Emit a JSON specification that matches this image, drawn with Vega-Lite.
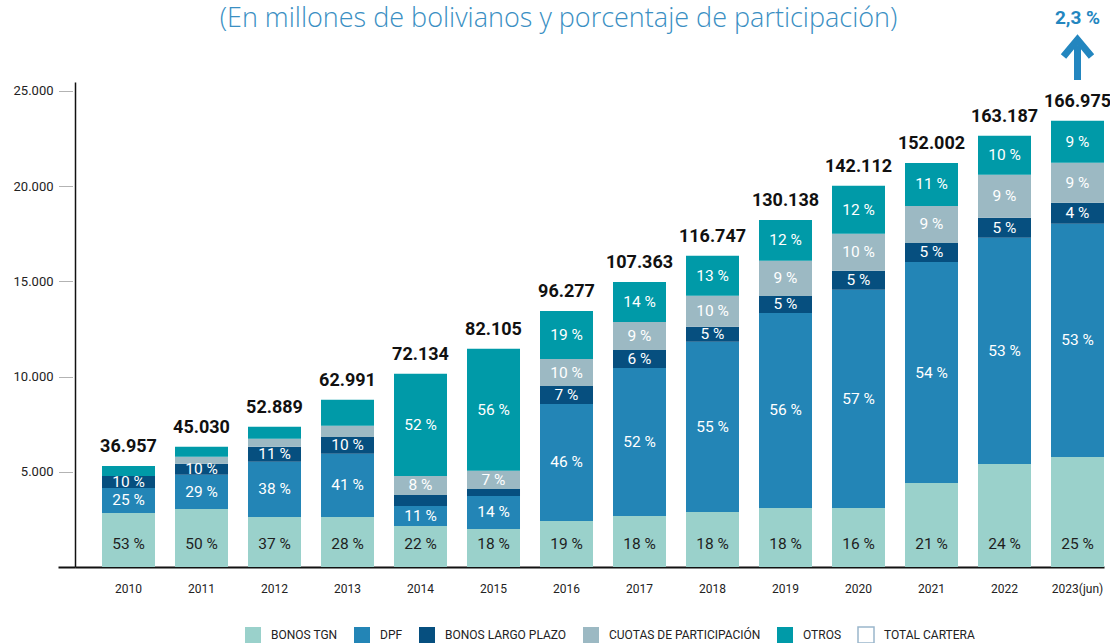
{
  "$schema": "https://vega.github.io/schema/vega-lite/v6.json",
  "width": 1029,
  "height": 485,
  "autosize": "none",
  "padding": {"left": 75, "top": 82, "right": 6, "bottom": 76},
  "background": "white",
  "title": {
    "text": "(En millones de bolivianos y porcentaje de participación)",
    "font": "Open Sans",
    "fontWeight": 300,
    "fontSize": 27,
    "color": "#3a8fc3",
    "anchor": "middle",
    "baseline": "alphabetic",
    "offset": -45,
    "dx": -31
  },
  "datasets": {
    "main": [
      {"year": "2010", "cat": "BONOS TGN", "value": 2840, "pct": 53},
      {"year": "2010", "cat": "DPF", "value": 1310, "pct": 25},
      {"year": "2010", "cat": "BONOS LARGO PLAZO", "value": 630, "pct": 10},
      {"year": "2010", "cat": "OTROS", "value": 525, "pct": null},
      {"year": "2011", "cat": "BONOS TGN", "value": 3050, "pct": 50},
      {"year": "2011", "cat": "DPF", "value": 1790, "pct": 29},
      {"year": "2011", "cat": "BONOS LARGO PLAZO", "value": 580, "pct": 10},
      {"year": "2011", "cat": "CUOTAS DE PARTICIPACIÓN", "value": 370, "pct": null},
      {"year": "2011", "cat": "OTROS", "value": 525, "pct": null},
      {"year": "2012", "cat": "BONOS TGN", "value": 2630, "pct": 37},
      {"year": "2012", "cat": "DPF", "value": 2890, "pct": 38},
      {"year": "2012", "cat": "BONOS LARGO PLAZO", "value": 790, "pct": 11},
      {"year": "2012", "cat": "CUOTAS DE PARTICIPACIÓN", "value": 420, "pct": null},
      {"year": "2012", "cat": "OTROS", "value": 630, "pct": null},
      {"year": "2013", "cat": "BONOS TGN", "value": 2630, "pct": 28},
      {"year": "2013", "cat": "DPF", "value": 3310, "pct": 41},
      {"year": "2013", "cat": "BONOS LARGO PLAZO", "value": 890, "pct": 10},
      {"year": "2013", "cat": "CUOTAS DE PARTICIPACIÓN", "value": 580, "pct": null},
      {"year": "2013", "cat": "OTROS", "value": 1370, "pct": null},
      {"year": "2014", "cat": "BONOS TGN", "value": 2150, "pct": 22},
      {"year": "2014", "cat": "DPF", "value": 1050, "pct": 11},
      {"year": "2014", "cat": "BONOS LARGO PLAZO", "value": 580, "pct": null},
      {"year": "2014", "cat": "CUOTAS DE PARTICIPACIÓN", "value": 1000, "pct": 8},
      {"year": "2014", "cat": "OTROS", "value": 5360, "pct": 52},
      {"year": "2015", "cat": "BONOS TGN", "value": 2000, "pct": 18},
      {"year": "2015", "cat": "DPF", "value": 1730, "pct": 14},
      {"year": "2015", "cat": "BONOS LARGO PLAZO", "value": 370, "pct": null},
      {"year": "2015", "cat": "CUOTAS DE PARTICIPACIÓN", "value": 950, "pct": 7},
      {"year": "2015", "cat": "OTROS", "value": 6410, "pct": 56},
      {"year": "2016", "cat": "BONOS TGN", "value": 2420, "pct": 19},
      {"year": "2016", "cat": "DPF", "value": 6140, "pct": 46},
      {"year": "2016", "cat": "BONOS LARGO PLAZO", "value": 940, "pct": 7},
      {"year": "2016", "cat": "CUOTAS DE PARTICIPACIÓN", "value": 1420, "pct": 10},
      {"year": "2016", "cat": "OTROS", "value": 2520, "pct": 19},
      {"year": "2017", "cat": "BONOS TGN", "value": 2680, "pct": 18},
      {"year": "2017", "cat": "DPF", "value": 7770, "pct": 52},
      {"year": "2017", "cat": "BONOS LARGO PLAZO", "value": 940, "pct": 6},
      {"year": "2017", "cat": "CUOTAS DE PARTICIPACIÓN", "value": 1470, "pct": 9},
      {"year": "2017", "cat": "OTROS", "value": 2100, "pct": 14},
      {"year": "2018", "cat": "BONOS TGN", "value": 2890, "pct": 18},
      {"year": "2018", "cat": "DPF", "value": 8930, "pct": 55},
      {"year": "2018", "cat": "BONOS LARGO PLAZO", "value": 790, "pct": 5},
      {"year": "2018", "cat": "CUOTAS DE PARTICIPACIÓN", "value": 1630, "pct": 10},
      {"year": "2018", "cat": "OTROS", "value": 2100, "pct": 13},
      {"year": "2019", "cat": "BONOS TGN", "value": 3100, "pct": 18},
      {"year": "2019", "cat": "DPF", "value": 10240, "pct": 56},
      {"year": "2019", "cat": "BONOS LARGO PLAZO", "value": 890, "pct": 5},
      {"year": "2019", "cat": "CUOTAS DE PARTICIPACIÓN", "value": 1840, "pct": 9},
      {"year": "2019", "cat": "OTROS", "value": 2150, "pct": 12},
      {"year": "2020", "cat": "BONOS TGN", "value": 3100, "pct": 16},
      {"year": "2020", "cat": "DPF", "value": 11450, "pct": 57},
      {"year": "2020", "cat": "BONOS LARGO PLAZO", "value": 1000, "pct": 5},
      {"year": "2020", "cat": "CUOTAS DE PARTICIPACIÓN", "value": 1940, "pct": 10},
      {"year": "2020", "cat": "OTROS", "value": 2520, "pct": 12},
      {"year": "2021", "cat": "BONOS TGN", "value": 4410, "pct": 21},
      {"year": "2021", "cat": "DPF", "value": 11600, "pct": 54},
      {"year": "2021", "cat": "BONOS LARGO PLAZO", "value": 1000, "pct": 5},
      {"year": "2021", "cat": "CUOTAS DE PARTICIPACIÓN", "value": 1940, "pct": 9},
      {"year": "2021", "cat": "OTROS", "value": 2260, "pct": 11},
      {"year": "2022", "cat": "BONOS TGN", "value": 5410, "pct": 24},
      {"year": "2022", "cat": "DPF", "value": 11870, "pct": 53},
      {"year": "2022", "cat": "BONOS LARGO PLAZO", "value": 1050, "pct": 5},
      {"year": "2022", "cat": "CUOTAS DE PARTICIPACIÓN", "value": 2260, "pct": 9},
      {"year": "2022", "cat": "OTROS", "value": 2050, "pct": 10},
      {"year": "2023(jun)", "cat": "BONOS TGN", "value": 5780, "pct": 25},
      {"year": "2023(jun)", "cat": "DPF", "value": 12240, "pct": 53},
      {"year": "2023(jun)", "cat": "BONOS LARGO PLAZO", "value": 1100, "pct": 4},
      {"year": "2023(jun)", "cat": "CUOTAS DE PARTICIPACIÓN", "value": 2100, "pct": 9},
      {"year": "2023(jun)", "cat": "OTROS", "value": 2200, "pct": 9}
    ],
    "totals": [
      {"year": "2010", "total": 36957},
      {"year": "2011", "total": 45030},
      {"year": "2012", "total": 52889},
      {"year": "2013", "total": 62991},
      {"year": "2014", "total": 72134},
      {"year": "2015", "total": 82105},
      {"year": "2016", "total": 96277},
      {"year": "2017", "total": 107363},
      {"year": "2018", "total": 116747},
      {"year": "2019", "total": 130138},
      {"year": "2020", "total": 142112},
      {"year": "2021", "total": 152002},
      {"year": "2022", "total": 163187},
      {"year": "2023(jun)", "total": 166975}
    ],
    "annot": [
      {"year": "2023(jun)", "label": "2,3 %"}
    ]
  },
  "encoding": {
    "x": {
      "field": "year",
      "type": "nominal",
      "sort": null,
      "scale": {"paddingInner": 0.274, "paddingOuter": 0.185, "align": 1},
      "axis": {
        "title": null,
        "ticks": false,
        "labelAngle": 0,
        "labelPadding": 16,
        "labelFont": "Roboto",
        "labelFontSize": 12,
        "labelColor": "#222222",
        "domainColor": "#111111",
        "domainWidth": 2
      }
    }
  },
  "layer": [
    {
      "data": {"name": "main"},
      "transform": [
        {"calculate": "indexof(['BONOS TGN','DPF','BONOS LARGO PLAZO','CUOTAS DE PARTICIPACIÓN','OTROS'], datum.cat)", "as": "k"}
      ],
      "mark": {"type": "bar"},
      "encoding": {
        "y": {
          "field": "value",
          "type": "quantitative",
          "stack": "zero",
          "scale": {"domain": [0, 25460], "nice": false, "zero": true},
          "axis": {
            "title": null,
            "values": [0, 5000, 10000, 15000, 20000, 25000],
            "grid": false,
            "labelExpr": "datum.value === 0 ? '' : replace(format(datum.value, ','), ',', '.')",
            "labelFont": "Roboto",
            "labelFontSize": 13,
            "labelColor": "#222222",
            "labelPadding": 5,
            "tickSize": 17,
            "tickColor": {"condition": {"test": "datum.value === 0", "value": "#111111"}, "value": "#666666"},
            "tickWidth": {"condition": {"test": "datum.value === 0", "value": 2}, "value": 1},
            "tickDash": {"condition": {"test": "datum.value === 0", "value": [20, 0]}, "value": [0, 3, 1, 1, 1, 1, 1, 1, 1, 1, 1, 1, 1, 1, 1, 1]},
            "domainColor": "#111111",
            "domainWidth": 1.5
          }
        },
        "color": {
          "field": "cat",
          "type": "nominal",
          "scale": {
            "domain": ["BONOS TGN", "DPF", "BONOS LARGO PLAZO", "CUOTAS DE PARTICIPACIÓN", "OTROS", "TOTAL CARTERA"],
            "range": ["#9ad1cb", "#2385b6", "#064f7f", "#9cb9c3", "#009aa8", "#ffffff"]
          },
          "legend": {
            "title": null,
            "orient": "none",
            "direction": "horizontal",
            "legendX": 169,
            "legendY": 544,
            "symbolType": "square",
            "symbolSize": 256,
            "labelFont": "Roboto",
            "labelFontSize": 12,
            "labelColor": "#222222",
            "labelOffset": 9,
            "columnPadding": 13,
            "encode": {
              "symbols": {
                "update": {
                  "stroke": {"signal": "datum.label === 'TOTAL CARTERA' ? '#9ab6cc' : 'transparent'"},
                  "strokeWidth": {"value": 1.5}
                }
              }
            }
          }
        },
        "order": {"field": "k", "type": "quantitative"}
      }
    },
    {
      "data": {"name": "main"},
      "transform": [
        {"calculate": "indexof(['BONOS TGN','DPF','BONOS LARGO PLAZO','CUOTAS DE PARTICIPACIÓN','OTROS'], datum.cat)", "as": "k"},
        {"stack": "value", "groupby": ["year"], "sort": [{"field": "k", "order": "ascending"}], "as": ["v0", "v1"]},
        {"filter": "isValid(datum.pct)"},
        {"calculate": "datum.cat === 'BONOS TGN' ? 1207 : (datum.v0 + datum.v1) / 2", "as": "mid"},
        {"calculate": "datum.pct + ' %'", "as": "plabel"}
      ],
      "mark": {
        "type": "text",
        "font": "Roboto",
        "fontSize": 15.5,
        "baseline": "middle",
        "align": "center"
      },
      "encoding": {
        "y": {"field": "mid", "type": "quantitative"},
        "text": {"field": "plabel"},
        "color": {"condition": {"test": "datum.cat === 'BONOS TGN'", "value": "#1e1e1e"}, "value": "#ffffff"}
      }
    },
    {
      "data": {"name": "main"},
      "transform": [
        {"aggregate": [{"op": "sum", "field": "value", "as": "top"}], "groupby": ["year"]},
        {"lookup": "year", "from": {"data": {"name": "totals"}, "key": "year", "fields": ["total"]}},
        {"calculate": "replace(format(datum.total, ','), ',', '.')", "as": "tlabel"}
      ],
      "mark": {
        "type": "text",
        "font": "Roboto",
        "fontSize": 18,
        "fontWeight": "bold",
        "baseline": "alphabetic",
        "align": "center",
        "dy": -14,
        "color": "#111111"
      },
      "encoding": {
        "y": {"field": "top", "type": "quantitative"},
        "text": {"field": "tlabel"}
      }
    },
    {
      "data": {"name": "annot"},
      "mark": {
        "type": "text",
        "font": "Roboto",
        "fontSize": 19,
        "fontWeight": "bold",
        "baseline": "middle",
        "align": "center",
        "color": "#2386bf"
      },
      "encoding": {
        "y": {"datum": 28794, "type": "quantitative"},
        "text": {"field": "label"}
      }
    },
    {
      "data": {"name": "annot"},
      "mark": {"type": "rule", "strokeWidth": 7, "color": "#2386bf"},
      "encoding": {
        "y": {"datum": 25565, "type": "quantitative"},
        "y2": {"datum": 27400}
      }
    },
    {
      "data": {"name": "annot"},
      "mark": {
        "type": "point",
        "shape": "M-1,0.6L0,-0.6L1,0.6",
        "filled": false,
        "size": 784,
        "strokeWidth": 7,
        "stroke": "#2386bf",
        "strokeJoin": "miter",
        "opacity": 1
      },
      "encoding": {
        "y": {"datum": 27245, "type": "quantitative"}
      }
    }
  ],
  "config": {
    "view": {"stroke": null},
    "axis": {"labelFont": "Roboto"}
  }
}
